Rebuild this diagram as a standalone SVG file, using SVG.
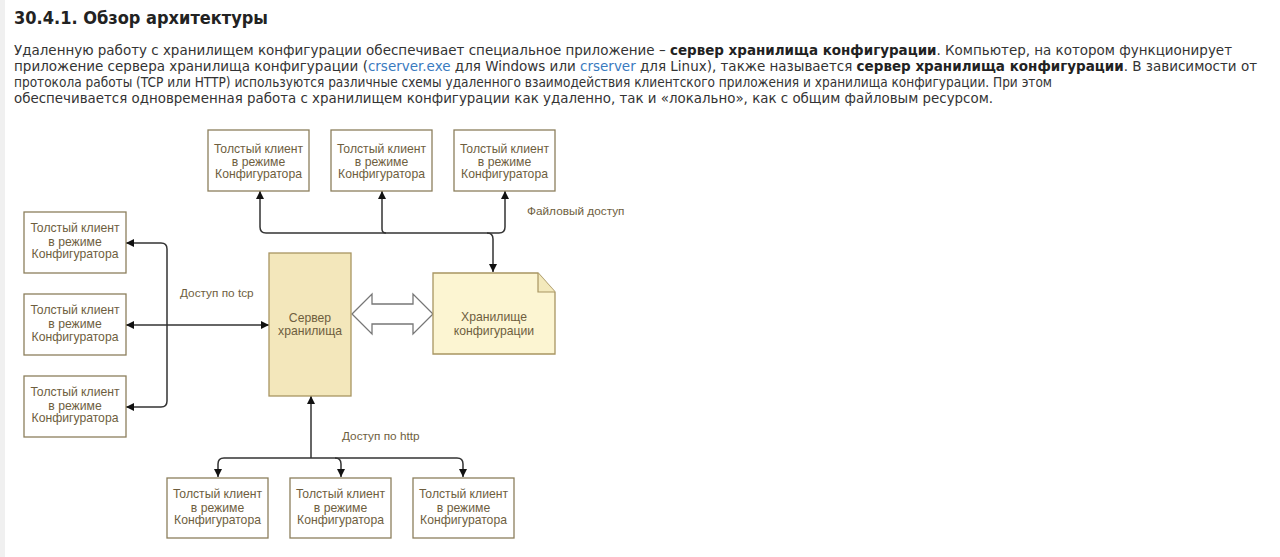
<svg xmlns="http://www.w3.org/2000/svg" width="1280" height="557" viewBox="0 0 1280 557">
<defs>
<style>
.pg{font-family:"DejaVu Sans",Verdana,sans-serif;font-size:13.6px;fill:#333}
.b{font-weight:bold;fill:#222}
.lnk{fill:#3a7bbf}
.box{fill:#fff;stroke:#8c7f5c;stroke-width:1.3}
.t{font-family:"Liberation Sans",Arial,sans-serif;font-size:12.2px;fill:#6e5e3e;text-anchor:middle}
.lbl{font-family:"Liberation Sans",Arial,sans-serif;font-size:11.8px;fill:#6e5e3e}
.ln{fill:none;stroke:#333;stroke-width:1.5}
</style>
<marker id="ah" viewBox="0 0 10 10" refX="10" refY="5" markerWidth="8" markerHeight="8" markerUnits="userSpaceOnUse" orient="auto-start-reverse">
<path d="M0,0 L10,5 L0,10 Z" fill="#111"/>
</marker>
</defs>
<rect width="1280" height="557" fill="#fff"/>
<rect x="0" y="0" width="5" height="557" fill="#f0f0f0"/>

<text x="14" y="24" font-family="DejaVu Sans,Verdana,sans-serif" font-size="17.5" font-weight="bold" fill="#222" textLength="254" lengthAdjust="spacingAndGlyphs">30.4.1. Обзор архитектуры</text>

<text class="pg" x="14" y="55" textLength="1218" lengthAdjust="spacingAndGlyphs">Удаленную работу с хранилищем конфигурации обеспечивает специальное приложение – <tspan class="b">сервер хранилища конфигурации</tspan>. Компьютер, на котором функционирует</text>
<text class="pg" x="14" y="71" textLength="1243" lengthAdjust="spacingAndGlyphs">приложение сервера хранилища конфигурации (<tspan class="lnk">crserver.exe</tspan> для Windows или <tspan class="lnk">crserver</tspan> для Linux), также называется <tspan class="b">сервер хранилища конфигурации</tspan>. В зависимости от</text>
<text class="pg" x="14" y="87" textLength="1038" lengthAdjust="spacingAndGlyphs">протокола работы (TCP или HTTP) используются различные схемы удаленного взаимодействия клиентского приложения и хранилища конфигурации. При этом</text>
<text class="pg" x="14" y="103" textLength="979" lengthAdjust="spacingAndGlyphs">обеспечивается одновременная работа с хранилищем конфигурации как удаленно, так и «локально», как с общим файловым ресурсом.</text>

<g id="connectors">
<path class="ln" d="M260,191 L260,227 Q260,233 266,233 L499,233 Q505,233 505,227 L505,191" marker-start="url(#ah)" marker-end="url(#ah)"/>
<path class="ln" d="M382,191 L382,229 Q382,233 386,233" marker-start="url(#ah)"/>
<path class="ln" d="M487,233 Q493,233 493,239 L493,272" marker-end="url(#ah)"/>
<path class="ln" d="M126,243 L161,243 Q167,243 167,249 L167,401 Q167,407 161,407 L126,407" marker-start="url(#ah)" marker-end="url(#ah)"/>
<path class="ln" d="M126,325 L269,325" marker-start="url(#ah)" marker-end="url(#ah)"/>
<path class="ln" d="M311,458 L311,396" marker-end="url(#ah)"/>
<path class="ln" d="M218,477 L218,464 Q218,458 224,458 L457,458 Q463,458 463,464 L463,477" marker-start="url(#ah)" marker-end="url(#ah)"/>
<path class="ln" d="M335,458 Q341,458 341,464 L341,477" marker-end="url(#ah)"/>
<path d="M352,314 L372,294 L372,304 L413,304 L413,294 L433,314 L413,334 L413,324 L372,324 L372,334 Z" fill="#fff" stroke="#777" stroke-width="1.3"/>
<text class="lbl" x="527" y="215">Файловый доступ</text>
<text class="lbl" x="180" y="297">Доступ по tcp</text>
<text class="lbl" x="342" y="440">Доступ по http</text>
</g>

<g id="top1"><rect class="box" x="208" y="130" width="101" height="61"/><text class="t" x="258.5" y="153">Толстый клиент</text><text class="t" x="258.5" y="166">в режиме</text><text class="t" x="258.5" y="178">Конфигуратора</text></g>
<g id="top2"><rect class="box" x="331" y="130" width="101" height="61"/><text class="t" x="381.5" y="153">Толстый клиент</text><text class="t" x="381.5" y="166">в режиме</text><text class="t" x="381.5" y="178">Конфигуратора</text></g>
<g id="top3"><rect class="box" x="454" y="130" width="101" height="61"/><text class="t" x="504.5" y="153">Толстый клиент</text><text class="t" x="504.5" y="166">в режиме</text><text class="t" x="504.5" y="178">Конфигуратора</text></g>

<g id="left1"><rect class="box" x="24" y="212" width="102" height="61"/><text class="t" x="75" y="232">Толстый клиент</text><text class="t" x="75" y="246">в режиме</text><text class="t" x="75" y="258">Конфигуратора</text></g>
<g id="left2"><rect class="box" x="24" y="294" width="102" height="61"/><text class="t" x="75" y="314">Толстый клиент</text><text class="t" x="75" y="328">в режиме</text><text class="t" x="75" y="341">Конфигуратора</text></g>
<g id="left3"><rect class="box" x="24" y="376" width="102" height="61"/><text class="t" x="75" y="396">Толстый клиент</text><text class="t" x="75" y="410">в режиме</text><text class="t" x="75" y="422">Конфигуратора</text></g>

<g id="server"><rect x="269" y="253" width="82" height="143" fill="#f3e7bb" stroke="#a89562" stroke-width="1.3"/><text class="t" x="310" y="322">Сервер</text><text class="t" x="310" y="335">хранилища</text></g>

<g id="storage"><path d="M433,273 L538,273 L555,292 L555,354 L433,354 Z" fill="#fcf5d2" stroke="#a89562" stroke-width="1.3"/><path d="M538,273 L538,292 L555,292" fill="#f3e9bc" stroke="#a89562" stroke-width="1.2"/><text class="t" x="494" y="321">Хранилище</text><text class="t" x="494" y="335">конфигурации</text></g>

<g id="bot1"><rect class="box" x="167" y="478" width="101" height="60"/><text class="t" x="217.5" y="498">Толстый клиент</text><text class="t" x="217.5" y="512">в режиме</text><text class="t" x="217.5" y="524">Конфигуратора</text></g>
<g id="bot2"><rect class="box" x="290" y="478" width="101" height="60"/><text class="t" x="340.5" y="498">Толстый клиент</text><text class="t" x="340.5" y="512">в режиме</text><text class="t" x="340.5" y="524">Конфигуратора</text></g>
<g id="bot3"><rect class="box" x="413" y="478" width="101" height="60"/><text class="t" x="463.5" y="498">Толстый клиент</text><text class="t" x="463.5" y="512">в режиме</text><text class="t" x="463.5" y="524">Конфигуратора</text></g>
</svg>
